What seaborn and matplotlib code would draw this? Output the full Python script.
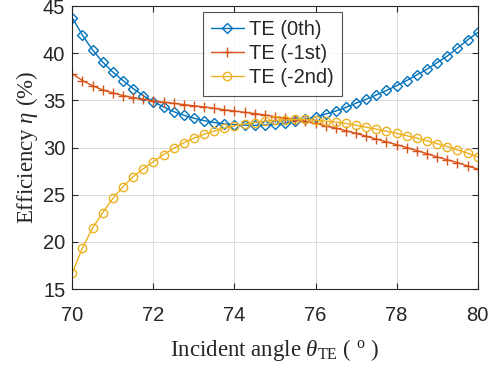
import numpy as np
import pandas as pd
import matplotlib
matplotlib.use("Agg")
import matplotlib.pyplot as plt
import seaborn as sns

angles = [70 + 0.25 * i for i in range(41)]

te0 = [43.75, 41.9, 40.35, 39.05, 38.0, 37.1, 36.25, 35.5, 34.85, 34.3,
       33.8, 33.42, 33.1, 32.85, 32.65, 32.5, 32.42, 32.37, 32.35, 32.38,
       32.45, 32.6, 32.8, 33.0, 33.25, 33.55, 33.87, 34.25, 34.7, 35.12,
       35.57, 36.05, 36.55, 37.1, 37.7, 38.3, 39.0, 39.7, 40.55, 41.4, 42.2]

te_m1 = [37.8, 37.1, 36.55, 36.1, 35.8, 35.5, 35.3, 35.1, 34.95, 34.8,
         34.68, 34.55, 34.42, 34.3, 34.15, 34.0, 33.87, 33.73, 33.6, 33.45,
         33.28, 33.12, 32.95, 32.78, 32.55, 32.3, 32.05, 31.78, 31.5, 31.2,
         30.9, 30.6, 30.3, 30.0, 29.68, 29.35, 29.0, 28.7, 28.4, 28.05, 27.72]

te_m2 = [16.7, 19.35, 21.45, 23.1, 24.6, 25.85, 26.9, 27.75, 28.5, 29.25,
         29.9, 30.5, 31.0, 31.4, 31.75, 32.05, 32.3, 32.5, 32.65, 32.78,
         32.87, 32.93, 32.97, 32.98, 32.88, 32.8, 32.7, 32.55, 32.35, 32.15,
         31.95, 31.72, 31.5, 31.25, 31.0, 30.7, 30.4, 30.1, 29.75, 29.4, 29.0]

labels = ["TE (0th)", "TE (-1st)", "TE (-2nd)"]
x_ticks = [70, 72, 74, 76, 78, 80]
y_ticks = [15, 20, 25, 30, 35, 40, 45]

sns.set_theme(style="whitegrid")
plt.rcParams["font.family"] = ["Liberation Sans", "DejaVu Sans"]
plt.rcParams["mathtext.fontset"] = "custom"
plt.rcParams["mathtext.rm"] = "Liberation Serif"
plt.rcParams["mathtext.it"] = "Liberation Serif:italic"

fig = plt.figure(figsize=(5.01, 3.71), dpi=100)
ax = fig.add_axes([0.1443, 0.221, 0.8092, 0.7628])

colors = ["#0072BD", "#D95319", "#EDB120"]
markers = ["D", "+", "o"]
msizes = [5.5, 7.5, 6]
series = [te0, te_m1, te_m2]

for vals, lab, c, m, ms in zip(series, labels, colors, markers, msizes):
    df = pd.DataFrame({"angle": angles, "eff": vals})
    kw = dict(marker=m, markersize=ms, color=c, linewidth=1.0, label=lab)
    if m in ("D", "o"):
        kw.update(markerfacecolor="none", markeredgecolor=c, markeredgewidth=1.0)
    else:
        kw.update(markeredgecolor=c, markeredgewidth=1.0)
    sns.lineplot(data=df, x="angle", y="eff", ax=ax, **kw)

ax.set_xlim(70, 80)
ax.set_ylim(15, 45)
ax.set_xticks(x_ticks)
ax.set_yticks(y_ticks)
ax.set_xticklabels([str(t) for t in x_ticks])
ax.set_yticklabels([str(t) for t in y_ticks])
ax.grid(True, color="#dcdcdc", linewidth=0.7)
ax.set_facecolor("white")
for s in ax.spines.values():
    s.set_visible(True)
    s.set_color("#262626")
    s.set_linewidth(0.8)
ax.tick_params(axis="both", direction="in", length=4, width=0.8, colors="#262626",
               labelsize=14.5, labelcolor="#262626", top=True, right=True,
               bottom=True, left=True)
ax.tick_params(axis="x", pad=12)
ax.tick_params(axis="y", pad=5)

ax.set_xlabel(r"Incident angle $\theta_{\rm TE}$ ( $^{\rm o}$ )",
              fontfamily="Liberation Serif", fontsize=16.5, color="#262626", labelpad=9)
ax.set_ylabel(r"Efficiency $\eta$ (%)", fontfamily="Liberation Serif",
              fontsize=16.5, color="#262626", labelpad=2)

leg = ax.legend(loc="upper left", bbox_to_anchor=(0.405, 0.968),
                bbox_transform=fig.transFigure, borderaxespad=0, fontsize=14.5,
                frameon=True, fancybox=False, edgecolor="#262626",
                handlelength=1.6, handletextpad=0.25, borderpad=0.42,
                labelspacing=0.25, numpoints=1)
leg.get_frame().set_linewidth(0.8)
for t in leg.get_texts():
    t.set_color("#262626")

fig.savefig("out.png", dpi=100, facecolor="white")
